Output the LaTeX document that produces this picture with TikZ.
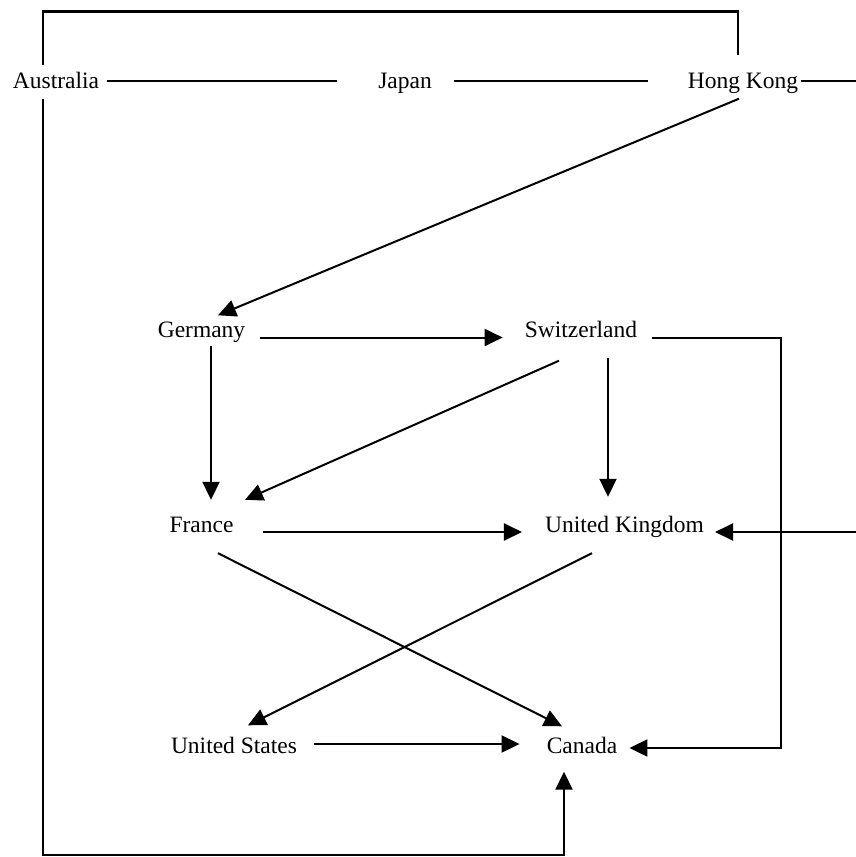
\documentclass[tikz,border=0pt]{standalone}
\usepackage{fontspec}
\setmainfont{Liberation Serif}
\usetikzlibrary{arrows.meta}

\tikzset{
  country/.style={font=\fontsize{23.5}{26}\selectfont, inner sep=0pt,
    text height=16pt, text depth=5pt, anchor=base},
  link/.style={line width=2pt},
  frame/.style={line width=2.4pt},
  flow/.style={line width=2pt, -{Triangle[length=18pt,width=17pt]}},
}

\begin{document}
\begin{tikzpicture}[x=1pt,y=-1pt]
\useasboundingbox (0,0) rectangle (856,857);

% Countries
\node[country] (aus) at (56,88.5) {Australia};
\node[country] (jap) at (405,88.5) {Japan};
\node[country] (hk) at (743,88.5) {Hong Kong};
\node[country] (ger) at (201.5,337.5) {Germany};
\node[country] (swi) at (581,337.5) {Switzerland};
\node[country] (fra) at (201.5,532) {France};
\node[country] (uk) at (624.5,532) {United Kingdom};
\node[country] (us) at (234,753.5) {United States};
\node[country] (can) at (582,753.5) {Canada};

% Free ends at the right border
\coordinate (hkout) at (856,81);
\coordinate (ukin) at (856,532);

% Asian links
\draw[link, shorten <=8pt, shorten >=41pt] ([yshift=2pt]aus.east) -- ([yshift=2pt]jap.west);
\draw[link, shorten <=22pt, shorten >=40pt] ([yshift=2pt]jap.east) -- ([yshift=2pt]hk.west);
\draw[link, shorten <=3pt] ([yshift=2pt]hk.east) -- (hkout);
\draw[frame, shorten <=7pt, shorten >=17pt] ([xshift=-13pt]aus.north) -- ++(0,-61) -| ([xshift=-5pt]hk.north);

% Hong Kong to Europe
\draw[flow] ([xshift=-4pt,yshift=-5pt]hk.south) -- ([xshift=16.5pt,yshift=6pt]ger.north);

% European links
\draw[flow, shorten <=15pt, shorten >=22pt] (ger.base east) -- (swi.base west);
\draw[flow, shorten <=3pt, shorten >=16pt] ([xshift=9.5pt]ger.south) -- ([xshift=9.5pt]fra.north);
\draw[flow, shorten <=15pt, shorten >=19pt] ([xshift=27pt]swi.south) -- ([xshift=-16.5pt]uk.north);
\draw[flow] ([xshift=-22pt,yshift=-18pt]swi.south) -- ([xshift=43.5pt,yshift=16pt]fra.north);
\draw[flow, shorten <=29pt, shorten >=23pt] (fra.base east) -- (uk.base west);
\draw[flow, shorten >=11pt] (ukin) -- (uk.base east);
\draw[flow, shorten <=15pt, shorten >=12pt] (swi.base east) -- ++(144,0) |- (can.east);

% Europe to America
\draw[flow] ([xshift=-32.5pt,yshift=-16pt]uk.south) -- ([xshift=14pt,yshift=12pt]us.north);
\draw[flow] ([xshift=16.5pt,yshift=-16pt]fra.south) -- ([xshift=-20pt,yshift=11pt]can.north);
\draw[flow, shorten <=17pt, shorten >=27pt] ([yshift=4pt]us.east) -- ([yshift=4pt]can.west);

% Australia to Canada
\draw[flow, shorten <=5pt, shorten >=13pt] ([xshift=-13pt]aus.south) -- ++(0,761.5) -| ([xshift=-18pt]can.south);
\end{tikzpicture}
\end{document}
